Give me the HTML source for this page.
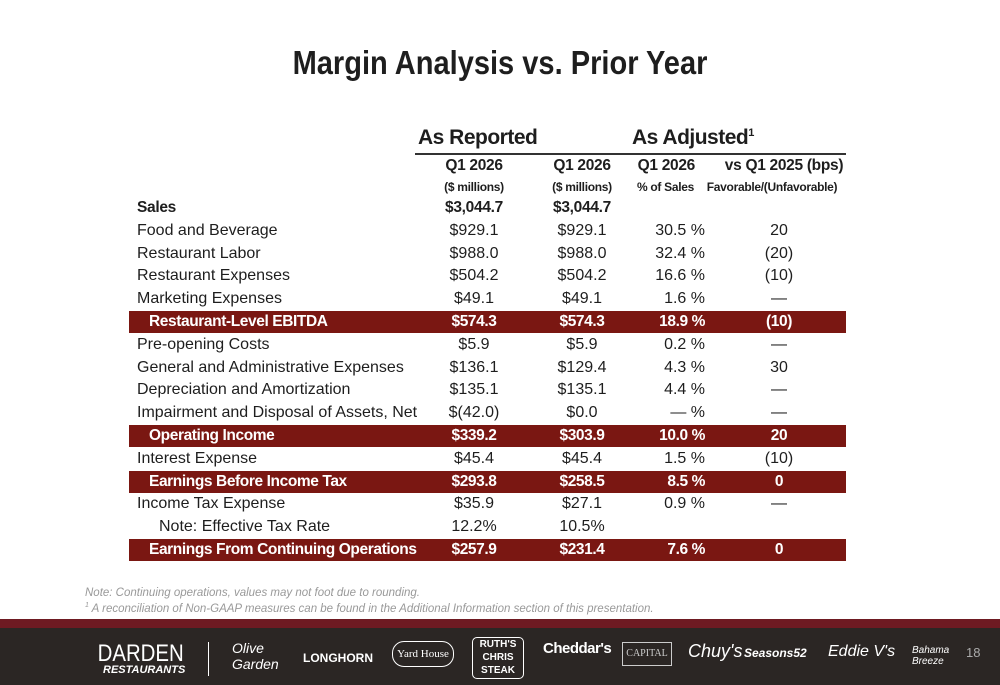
<!DOCTYPE html>
<html><head><meta charset="utf-8"><style>
body{margin:0;width:1000px;height:685px;background:#fff;position:relative;overflow:hidden;font-family:"Liberation Sans",sans-serif;color:#1e1e1e}
.a{position:absolute;white-space:nowrap}
.t{left:0;width:1000px;text-align:center;top:44px;font-size:33px;font-weight:bold;transform:scaleX(.88)}
.row{position:absolute;left:129px;width:717px;height:22px;font-size:16px;line-height:22px}
.row span{position:absolute;top:0;white-space:nowrap}
.l{left:8px}.c1{left:305px;width:80px;text-align:center}.c2{left:413px;width:80px;text-align:center}
.c3{left:496px;width:80px;text-align:right}.c4{left:600px;width:100px;text-align:center}
.hl{background:#7a1712;color:#fff;font-weight:bold;font-size:15.5px;letter-spacing:-0.4px}
.hl .l{left:20px}
.b{font-weight:bold;font-size:15.5px;letter-spacing:-0.3px}
.h{font-size:12px;font-weight:bold;letter-spacing:-0.3px}
</style></head><body>
<div class="a t">Margin Analysis vs. Prior Year</div>
<div class="a" style="left:418px;top:126px;font-size:21px;font-weight:bold;letter-spacing:-0.5px">As Reported</div>
<div class="a" style="left:632px;top:126px;font-size:21px;font-weight:bold;letter-spacing:-0.5px">As Adjusted<sup style="font-size:11px">1</sup></div>
<div class="a" style="left:415px;top:153px;width:431px;height:2px;background:#333"></div>
<div class="row b" style="top:155px"><span class="c1">Q1 2026</span><span class="c2">Q1 2026</span><span class="c3" style="width:70px">Q1 2026</span><span class="c4" style="left:585px;width:140px">vs Q1 2025 (bps)</span></div>
<div class="row h" style="top:176px"><span class="c1">($ millions)</span><span class="c2">($ millions)</span><span class="c3" style="left:490px;width:75px">% of Sales</span><span class="c4" style="left:570px;width:146px">Favorable/(Unfavorable)</span></div>
<div id="rows"></div>
<div class="a" style="left:85px;top:587px;font-size:11.5px;color:#999;font-style:italic">Note: Continuing operations, values may not foot due to rounding.</div>
<div class="a" style="left:85px;top:602px;font-size:11.5px;color:#999;font-style:italic"><sup style="font-size:7px">1</sup> A reconciliation of Non-GAAP measures can be found in the Additional Information section of this presentation.</div>
<div class="a" style="left:0;top:619px;width:1000px;height:10px;background:#6e1a22"></div>
<div class="a" style="left:0;top:628px;width:1000px;height:57px;background:#2b2624"></div>
<div class="a" style="left:90px;top:640px;color:#fff;font-size:24px;transform:scaleX(.85)">DARDEN</div>
<div class="a" style="left:103px;top:664px;color:#fff;font-size:11px;font-weight:bold;font-style:italic">RESTAURANTS</div>
<div class="a" style="left:208px;top:642px;width:1px;height:34px;background:#fff"></div>
<div class="a" style="left:232px;top:640px;color:#fff;font-size:14px;font-style:italic">Olive<br>Garden</div>
<div class="a" style="left:303px;top:651px;color:#fff;font-size:12px;font-weight:bold">LONGHORN</div>
<div class="a" style="left:392px;top:641px;width:60px;height:24px;border:1px solid #fff;border-radius:12px;color:#fff;font-size:11px;text-align:center;line-height:24px;font-family:'Liberation Serif',serif">Yard House</div>
<div class="a" style="left:472px;top:637px;width:50px;height:40px;border:1px solid #fff;border-radius:5px;color:#fff;font-size:10px;font-weight:bold;text-align:center;line-height:13px">RUTH'S<br>CHRIS<br>STEAK</div>
<div class="a" style="left:543px;top:640px;color:#fff;font-size:15px;font-weight:bold;letter-spacing:-0.5px">Cheddar's</div>
<div class="a" style="left:622px;top:642px;width:48px;height:22px;border:1px solid #ccc;color:#ccc;font-size:10px;text-align:center;line-height:22px;font-family:'Liberation Serif',serif">CAPITAL</div>
<div class="a" style="left:688px;top:641px;color:#fff;font-size:18px;font-style:italic">Chuy's</div>
<div class="a" style="left:744px;top:646px;color:#fff;font-size:12px;font-style:italic;font-weight:bold">Seasons52</div>
<div class="a" style="left:828px;top:643px;color:#fff;font-size:16px;font-style:italic">Eddie V's</div>
<div class="a" style="left:912px;top:645px;color:#fff;font-size:10px;font-style:italic">Bahama<br>Breeze</div>
<div class="a" style="left:966px;top:645px;color:#aaa;font-size:13px">18</div>
<script>
const labels=["Sales","Food and Beverage","Restaurant Labor","Restaurant Expenses","Marketing Expenses","Restaurant-Level EBITDA","Pre-opening Costs","General and Administrative Expenses","Depreciation and Amortization","Impairment and Disposal of Assets, Net","Operating Income","Interest Expense","Earnings Before Income Tax","Income Tax Expense","Note: Effective Tax Rate","Earnings From Continuing Operations"];
const reported=["$3,044.7","$929.1","$988.0","$504.2","$49.1","$574.3","$5.9","$136.1","$135.1","$(42.0)","$339.2","$45.4","$293.8","$35.9","12.2%","$257.9"];
const adjusted=["$3,044.7","$929.1","$988.0","$504.2","$49.1","$574.3","$5.9","$129.4","$135.1","$0.0","$303.9","$45.4","$258.5","$27.1","10.5%","$231.4"];
const pct=["","30.5 %","32.4 %","16.6 %","1.6 %","18.9 %","0.2 %","4.3 %","4.4 %","— %","10.0 %","1.5 %","8.5 %","0.9 %","","7.6 %"];
const bps=["","20","(20)","(10)","—","(10)","—","30","—","—","20","(10)","0","—","","0"];
const hl=[5,10,12,15];
const box=document.getElementById('rows');
labels.forEach((l,i)=>{
 const r=document.createElement('div');
 r.className='row'+(hl.includes(i)?' hl':'')+(i==0?' b':'');
 r.style.top=(197+i*22.8)+'px';
 
 
 r.innerHTML=`<span class="l" style="${i==14?'left:30px':''}">${l}</span><span class="c1">${reported[i]}</span><span class="c2">${adjusted[i]}</span><span class="c3">${pct[i]}</span><span class="c4">${bps[i]}</span>`;
 box.appendChild(r);
});
</script>
</body></html>
